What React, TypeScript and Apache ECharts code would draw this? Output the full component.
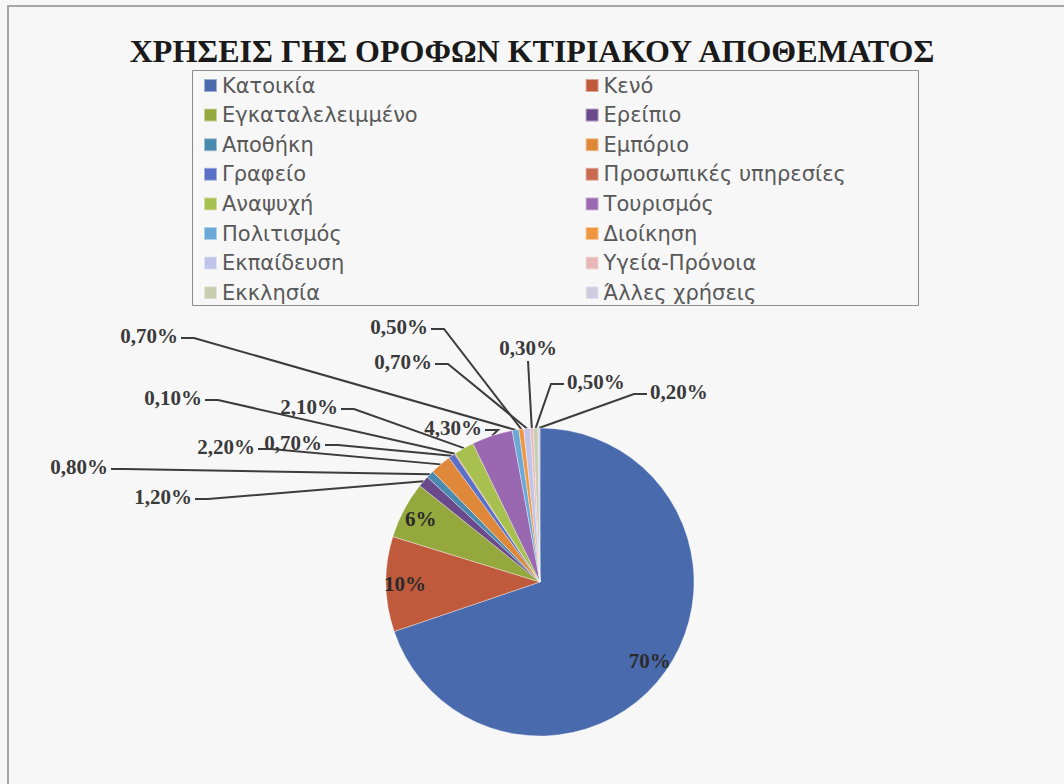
import React, { useEffect, useRef } from 'react';
import * as echarts from 'echarts';

const titleText = 'ΧΡΗΣΕΙΣ ΓΗΣ ΟΡΟΦΩΝ ΚΤΙΡΙΑΚΟΥ ΑΠΟΘΕΜΑΤΟΣ';

const categories = [
  'Κατοικία',
  'Κενό',
  'Εγκαταλελειμμένο',
  'Ερείπιο',
  'Αποθήκη',
  'Εμπόριο',
  'Γραφείο',
  'Προσωπικές υπηρεσίες',
  'Αναψυχή',
  'Τουρισμός',
  'Πολιτισμός',
  'Διοίκηση',
  'Εκπαίδευση',
  'Υγεία-Πρόνοια',
  'Εκκλησία',
  'Άλλες χρήσεις',
];

const shares = [70, 10, 6, 1.2, 0.8, 2.2, 0.7, 0.1, 2.1, 4.3, 0.7, 0.5, 0.7, 0.3, 0.5, 0.2];

const colors = [
  '#4a6aae', '#c05a3c', '#94a83e', '#6a4a8a', '#4a8ab0', '#e0883a',
  '#5a70c8', '#c86a50', '#a8c050', '#9a68b0', '#6aa8d8', '#f09640',
  '#c0c4e8', '#e8b8b8', '#c8ccb0', '#d0cce0',
];

const insideLabelled = ['Κατοικία', 'Κενό', 'Εγκαταλελειμμένο'];

type Spot = { x: number; y: number; align: 'left' | 'right' | 'center' } | null;
// label placement (layout only), index-aligned with categories
const labelSpots: Spot[] = [
  null, null, null,
  { x: 192, y: 497, align: 'right' },
  { x: 108, y: 467, align: 'right' },
  { x: 255, y: 447, align: 'right' },
  { x: 322, y: 443, align: 'right' },
  { x: 202, y: 398, align: 'right' },
  { x: 338, y: 407, align: 'right' },
  { x: 482, y: 428, align: 'right' },
  { x: 178, y: 336, align: 'right' },
  { x: 428, y: 327, align: 'right' },
  { x: 432, y: 362, align: 'right' },
  { x: 528, y: 348, align: 'center' },
  { x: 567, y: 382, align: 'left' },
  { x: 650, y: 392, align: 'left' },
];

function fmt(v: number): string {
  return v >= 5 ? `${v}%` : `${v.toFixed(2).replace('.', ',')}%`;
}

const labelFont = {
  fontFamily: 'Liberation Serif',
  fontWeight: 'bold' as const,
  fontSize: 21,
  color: '#3a3a3a',
};

export default function App() {
  const ref = useRef<HTMLDivElement>(null);
  useEffect(() => {
    if (!ref.current) return;
    const chart = echarts.init(ref.current, undefined, { renderer: 'svg' });

    const mainData = categories.map((name, i) => {
      const inside = insideLabelled.includes(name);
      return {
        name,
        value: shares[i],
        label: { show: !inside },
        labelLine: { show: !inside },
      };
    });
    const overlayData = categories.map((name, i) => ({
      name,
      value: shares[i],
      label: { show: insideLabelled.includes(name) },
    }));

    chart.setOption({
      animation: false,
      backgroundColor: '#f7f7f7',
      color: colors,
      title: {
        text: titleText,
        left: 'center',
        top: 30,
        textStyle: {
          fontFamily: 'Liberation Serif',
          fontWeight: 'bold',
          fontSize: 32,
          color: '#1a1a1a',
        },
      },
      legend: {
        data: categories,
        left: 203,
        top: 75,
        width: 760,
        padding: 0,
        itemWidth: 13,
        itemHeight: 13,
        itemGap: 8.6,
        icon: 'rect',
        selectedMode: false,
        textStyle: {
          fontFamily: 'DejaVu Sans',
          fontSize: 21,
          color: '#595959',
          width: 354,
          lineHeight: 20,
        },
      },
      graphic: [
        {
          type: 'rect',
          shape: { x: 8, y: 6, width: 1200, height: 900 },
          style: { fill: 'none', stroke: '#a6a6a6', lineWidth: 2 },
          silent: true,
        },
        {
          type: 'rect',
          shape: { x: 192.5, y: 70.5, width: 726, height: 235 },
          style: { fill: 'none', stroke: '#8c8c8c', lineWidth: 1 },
          silent: true,
        },
      ],
      series: [
        {
          type: 'pie',
          center: [540, 582],
          radius: 154,
          startAngle: 90,
          clockwise: true,
          avoidLabelOverlap: false,
          data: mainData,
          itemStyle: { borderColor: 'rgba(255,255,255,0.45)', borderWidth: 0.8 },
          label: {
            position: 'outside',
            formatter: (p: any) => fmt(p.value),
            ...labelFont,
          },
          labelLine: {
            show: true,
            length: 10,
            length2: 10,
            lineStyle: { color: '#3c3c3c', width: 2 },
          },
          labelLayout: (params: any) => {
            const s = labelSpots[params.dataIndex];
            if (!s) return {};
            const pts = params.labelLinePoints;
            if (!pts || !pts.length) {
              return { x: s.x, y: s.y, align: s.align, verticalAlign: 'middle' };
            }
            const start = pts[0];
            let line: number[][];
            if (s.align === 'right') {
              line = [start, [s.x + 16, s.y + 2], [s.x + 3, s.y + 2]];
            } else if (s.align === 'left') {
              line = [start, [s.x - 16, s.y + 2], [s.x - 3, s.y + 2]];
            } else {
              line = [start, [s.x, s.y + 13]];
            }
            return {
              x: s.x,
              y: s.y,
              align: s.align,
              verticalAlign: 'middle',
              labelLinePoints: line,
            };
          },
          emphasis: { disabled: true },
        },
        {
          type: 'pie',
          center: [540, 582],
          radius: [110, 154],
          startAngle: 90,
          clockwise: true,
          silent: true,
          avoidLabelOverlap: false,
          data: overlayData,
          itemStyle: { color: 'rgba(0,0,0,0)' },
          label: {
            position: 'inside',
            formatter: (p: any) => fmt(p.value),
            ...labelFont,
            color: '#2a2a2a',
          },
          labelLine: { show: false },
          emphasis: { disabled: true },
        },
      ],
    });
    return () => chart.dispose();
  }, []);

  return (
    <div
      ref={ref}
      style={{ position: 'fixed', left: 0, top: 0, width: 1064, height: 784 }}
    />
  );
}
